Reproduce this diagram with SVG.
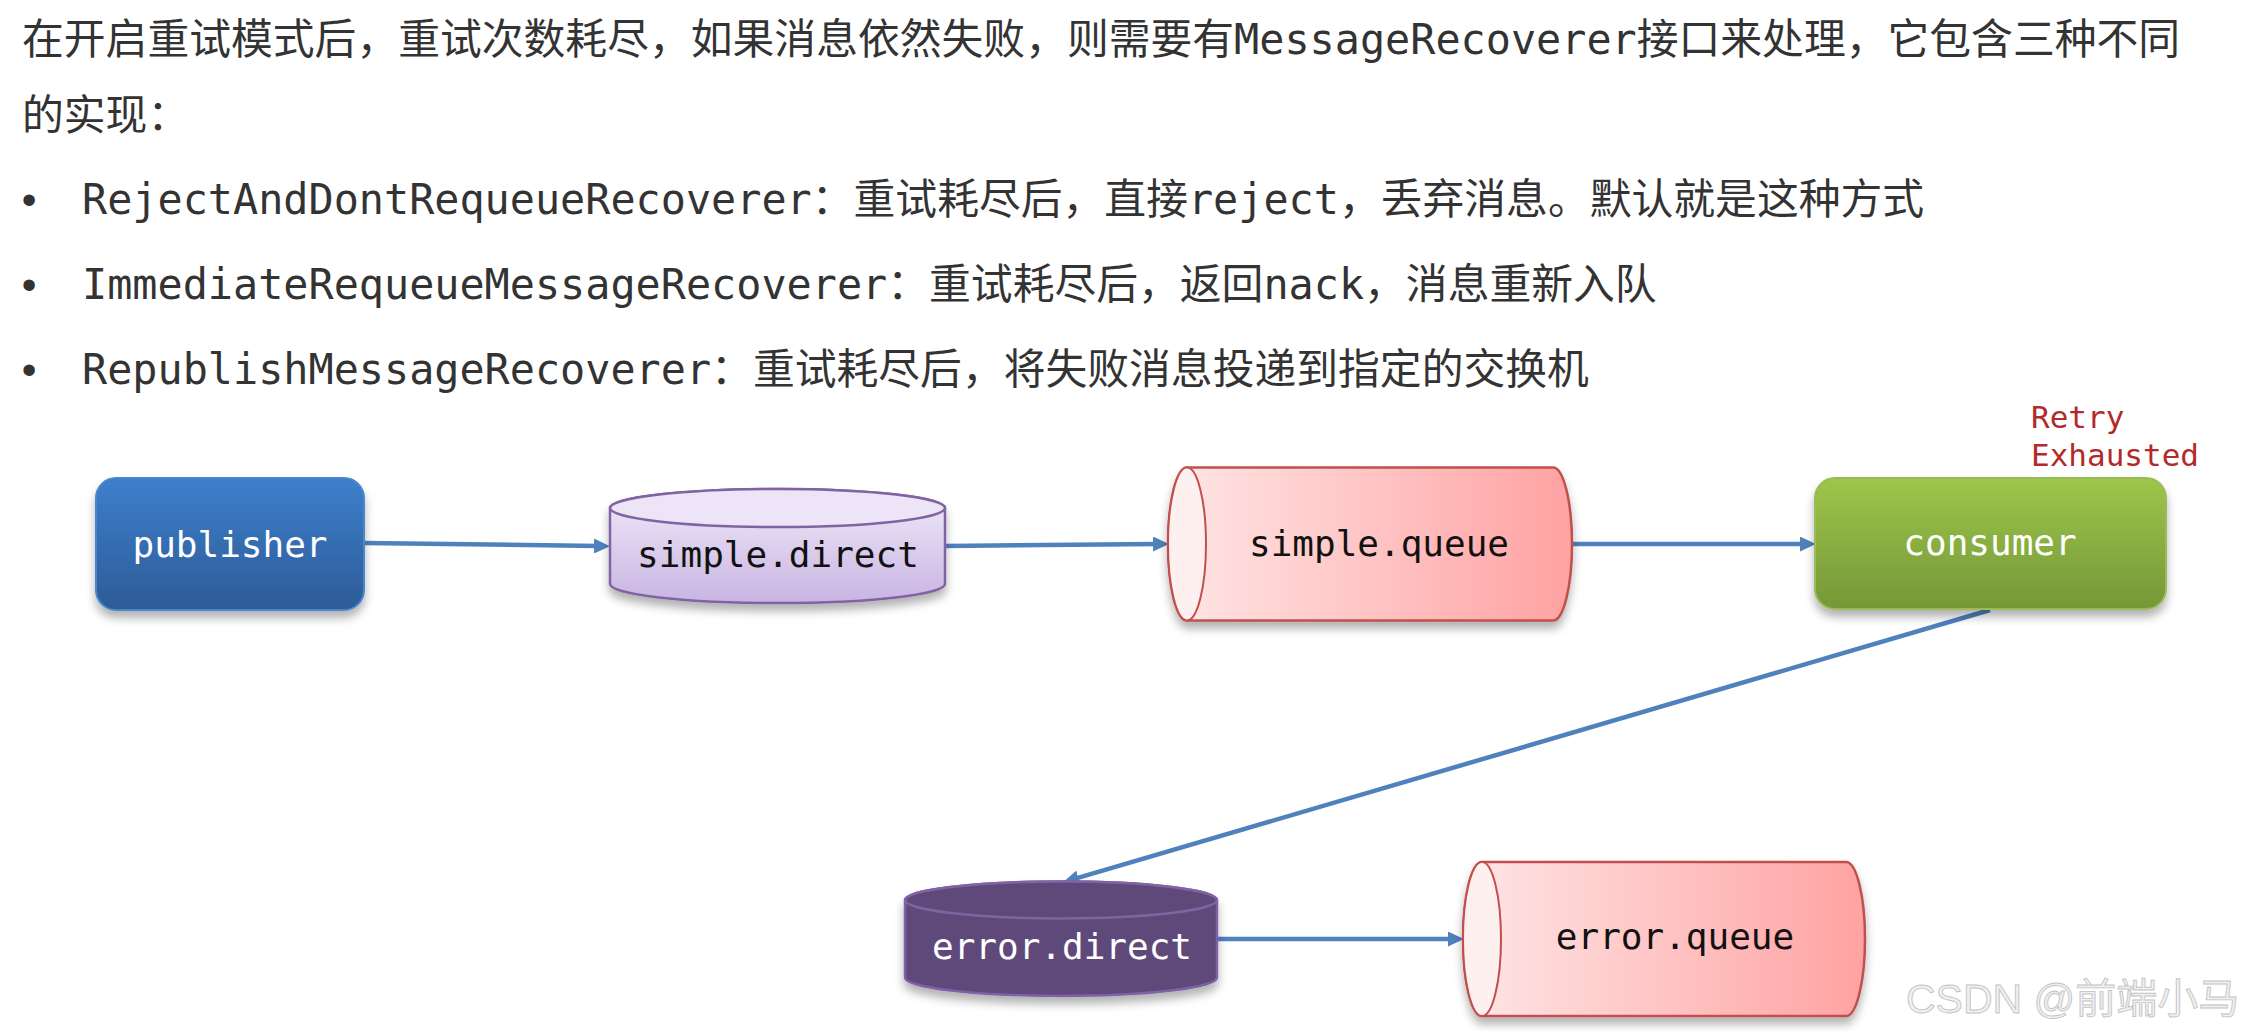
<svg xmlns="http://www.w3.org/2000/svg" width="2254" height="1031" viewBox="0 0 2254 1031">
<style>
.body{font-family:"DejaVu Sans Mono","Noto Sans CJK SC",monospace;font-size:41.8px;fill:#333333}
.bullet{font-family:"Liberation Sans",sans-serif;font-size:42px;fill:#333333}
.lbl{font-family:"DejaVu Sans Mono",monospace;font-size:36px;text-anchor:middle}
.w{fill:#ffffff}
.k{fill:#111111}
.retry{font-family:"DejaVu Sans Mono",monospace;font-size:31px;fill:#b22a2a}
.conn{stroke:#4f81bd;stroke-width:4.5;fill:none;marker-end:url(#ah)}
.wm{font-family:"Liberation Sans","Noto Sans CJK SC",sans-serif;font-size:41px;fill:#f0f0f0;stroke:#c4c4c4;stroke-width:0.9}
</style>
<defs>
<linearGradient id="gBlue" x1="0" y1="0" x2="0" y2="1"><stop offset="0" stop-color="#3d7fcc"/><stop offset="1" stop-color="#2d5b97"/></linearGradient>
<linearGradient id="gGreen" x1="0" y1="0" x2="0" y2="1"><stop offset="0" stop-color="#9dc64b"/><stop offset="1" stop-color="#759737"/></linearGradient>
<linearGradient id="gLav" x1="0" y1="0" x2="0" y2="1"><stop offset="0" stop-color="#f0eaf9"/><stop offset="1" stop-color="#c9b4e2"/></linearGradient>
<linearGradient id="gPink" x1="0" y1="0" x2="1" y2="0"><stop offset="0" stop-color="#ffe6e6"/><stop offset="1" stop-color="#ffa2a2"/></linearGradient>
<filter id="sh" x="-10%" y="-10%" width="120%" height="135%"><feDropShadow dx="0" dy="7" stdDeviation="5" flood-color="#000" flood-opacity="0.3"/></filter>
<marker id="ah" markerUnits="userSpaceOnUse" markerWidth="16" markerHeight="15" refX="5" refY="7.5" orient="auto"><path d="M0,0 L16,7.5 L0,15 Z" fill="#4f81bd"/></marker>
</defs>

<g id="text">
<text class="body" x="22" y="54">在开启重试模式后，重试次数耗尽，如果消息依然失败，则需要有MessageRecoverer接口来处理，它包含三种不同</text>
<text class="body" x="22" y="130">的实现：</text>
<text class="bullet" x="29" y="214" text-anchor="middle">•</text>
<text class="body" x="82" y="214">RejectAndDontRequeueRecoverer：重试耗尽后，直接reject，丢弃消息。默认就是这种方式</text>
<text class="bullet" x="29" y="299" text-anchor="middle">•</text>
<text class="body" x="82" y="299">ImmediateRequeueMessageRecoverer：重试耗尽后，返回nack，消息重新入队</text>
<text class="bullet" x="29" y="384" text-anchor="middle">•</text>
<text class="body" x="82" y="384">RepublishMessageRecoverer：重试耗尽后，将失败消息投递到指定的交换机</text>
</g>

<g id="connectors">
<path class="conn" d="M364,543 L599,546"/>
<path class="conn" d="M945,546 L1158,544"/>
<path class="conn" d="M1572,544 L1805,544"/>
<path class="conn" d="M1990,610 L1073.6,879.2"/>
<path class="conn" d="M1217,939 L1453,939"/>
</g>

<g id="publisher">
<rect x="96" y="478" width="268" height="132" rx="20" fill="url(#gBlue)" stroke="#4a86cc" stroke-width="2" filter="url(#sh)"/>
<text class="lbl w" x="230" y="557">publisher</text>
</g>

<g id="simple-direct">
<path d="M610,508 L610,584 A167.5,19 0 0 0 945,584 L945,508 A167.5,19 0 0 0 610,508 Z" fill="url(#gLav)" stroke="#8064a2" stroke-width="2.5" filter="url(#sh)"/>
<ellipse cx="777.5" cy="508" rx="167.5" ry="19" fill="#ede5f7" stroke="#8064a2" stroke-width="2.5"/>
<text class="lbl k" x="778" y="567">simple.direct</text>
</g>

<g id="simple-queue">
<path d="M1187,467.5 L1553,467.5 A19,76.5 0 0 1 1553,620.5 L1187,620.5 A19,76.5 0 0 1 1187,467.5 Z" fill="url(#gPink)" stroke="#c0504d" stroke-width="2.5" filter="url(#sh)"/>
<ellipse cx="1187" cy="544" rx="19" ry="76.5" fill="#fff0f0" stroke="#c0504d" stroke-width="2"/>
<text class="lbl k" x="1379" y="556">simple.queue</text>
</g>

<g id="consumer">
<rect x="1815" y="478" width="351" height="131" rx="20" fill="url(#gGreen)" stroke="#9bbb59" stroke-width="2" filter="url(#sh)"/>
<text class="lbl w" x="1990" y="555">consumer</text>
</g>

<g id="retry-label">
<text class="retry" x="2031" y="428">Retry</text>
<text class="retry" x="2031" y="466">Exhausted</text>
</g>

<g id="error-direct">
<path d="M905,900 L905,977.5 A156,18.5 0 0 0 1217,977.5 L1217,900 A156,18.5 0 0 0 905,900 Z" fill="#5f497a" stroke="#7f62a6" stroke-width="2.5" filter="url(#sh)"/>
<ellipse cx="1061" cy="900" rx="156" ry="18.5" fill="#5f497a" stroke="#8064a2" stroke-width="2.5"/>
<text class="lbl w" x="1062" y="959">error.direct</text>
</g>

<g id="error-queue">
<path d="M1482,862 L1846,862 A19,77 0 0 1 1846,1016 L1482,1016 A19,77 0 0 1 1482,862 Z" fill="url(#gPink)" stroke="#c0504d" stroke-width="2.5" filter="url(#sh)"/>
<ellipse cx="1482" cy="939" rx="19" ry="77" fill="#fff0f0" stroke="#c0504d" stroke-width="2"/>
<text class="lbl k" x="1675" y="949">error.queue</text>
</g>

<g id="watermark">
<text class="wm" x="1906" y="1013">CSDN @前端小马</text>
</g>
</svg>
